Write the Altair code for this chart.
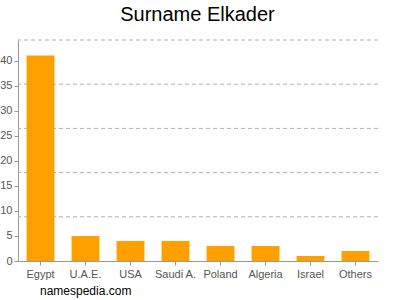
import altair as alt
import pandas as pd

countries = ["Egypt", "U.A.E.", "USA", "Saudi A.", "Poland", "Algeria", "Israel", "Others"]
counts = [41, 5, 4, 4, 3, 3, 1, 2]
y_ticks = [0, 5, 10, 15, 20, 25, 30, 35, 40]
y_max = 44.1
grid_values = [8.82, 17.64, 26.46, 35.28, 44.1]
title_text = ["Surname Elkader"]
footer_text = ["namespedia.com"]

df = pd.DataFrame({"country": countries, "count": counts})
grid_df = pd.DataFrame({"g": grid_values})
footer_df = pd.DataFrame({"t": footer_text})
title_df = pd.DataFrame({"t": title_text})

yscale = alt.Scale(domain=[0, y_max], nice=False)
yaxis = alt.Axis(values=y_ticks, grid=False, labelColor="#555555",
                 labelFontSize=11, labelFont="Liberation Sans",
                 labelOverlap=False, labelFlush=False, tickCount=9,
                 domainColor="#999999", tickColor="#999999", tickSize=4,
                 labelPadding=2)

grid = alt.Chart(grid_df).mark_rule(color="#b0b0b0", strokeDash=[4, 3], strokeWidth=1).encode(
    y=alt.Y("g:Q", scale=yscale, title=None, axis=yaxis),
)

bars = alt.Chart(df).mark_bar(color="#ffa000").encode(
    x=alt.X("country:N", sort=countries, title=None,
            scale=alt.Scale(paddingInner=0.38, paddingOuter=0.19),
            axis=alt.Axis(labelAngle=0, labelColor="#555555", labelFontSize=11,
                          labelFont="Liberation Sans", labelOverlap=False,
                          domainColor="#999999",
                          tickColor="#999999", tickSize=4, labelPadding=3)),
    y=alt.Y("count:Q", scale=yscale, title=None, axis=yaxis),
)

footer = alt.Chart(footer_df).mark_text(
    align="left", baseline="alphabetic", fontSize=12, font="Liberation Sans", color="#000000"
).encode(x=alt.value(22), y=alt.value(255), text="t:N")

title = alt.Chart(title_df).mark_text(
    align="center", baseline="alphabetic", fontSize=20, font="Liberation Sans", color="#000000"
).encode(x=alt.value(179.5), y=alt.value(-19), text="t:N")

chart = alt.layer(grid, bars, footer, title).properties(
    width=360,
    height=221,
    padding={"left": 18, "top": 40, "right": 22, "bottom": 39},
    autosize=alt.AutoSizeParams(type="none"),
).resolve_scale(y="shared").configure_view(stroke=None)

chart.save("out.html", embed_options={"renderer": "svg", "actions": False})
